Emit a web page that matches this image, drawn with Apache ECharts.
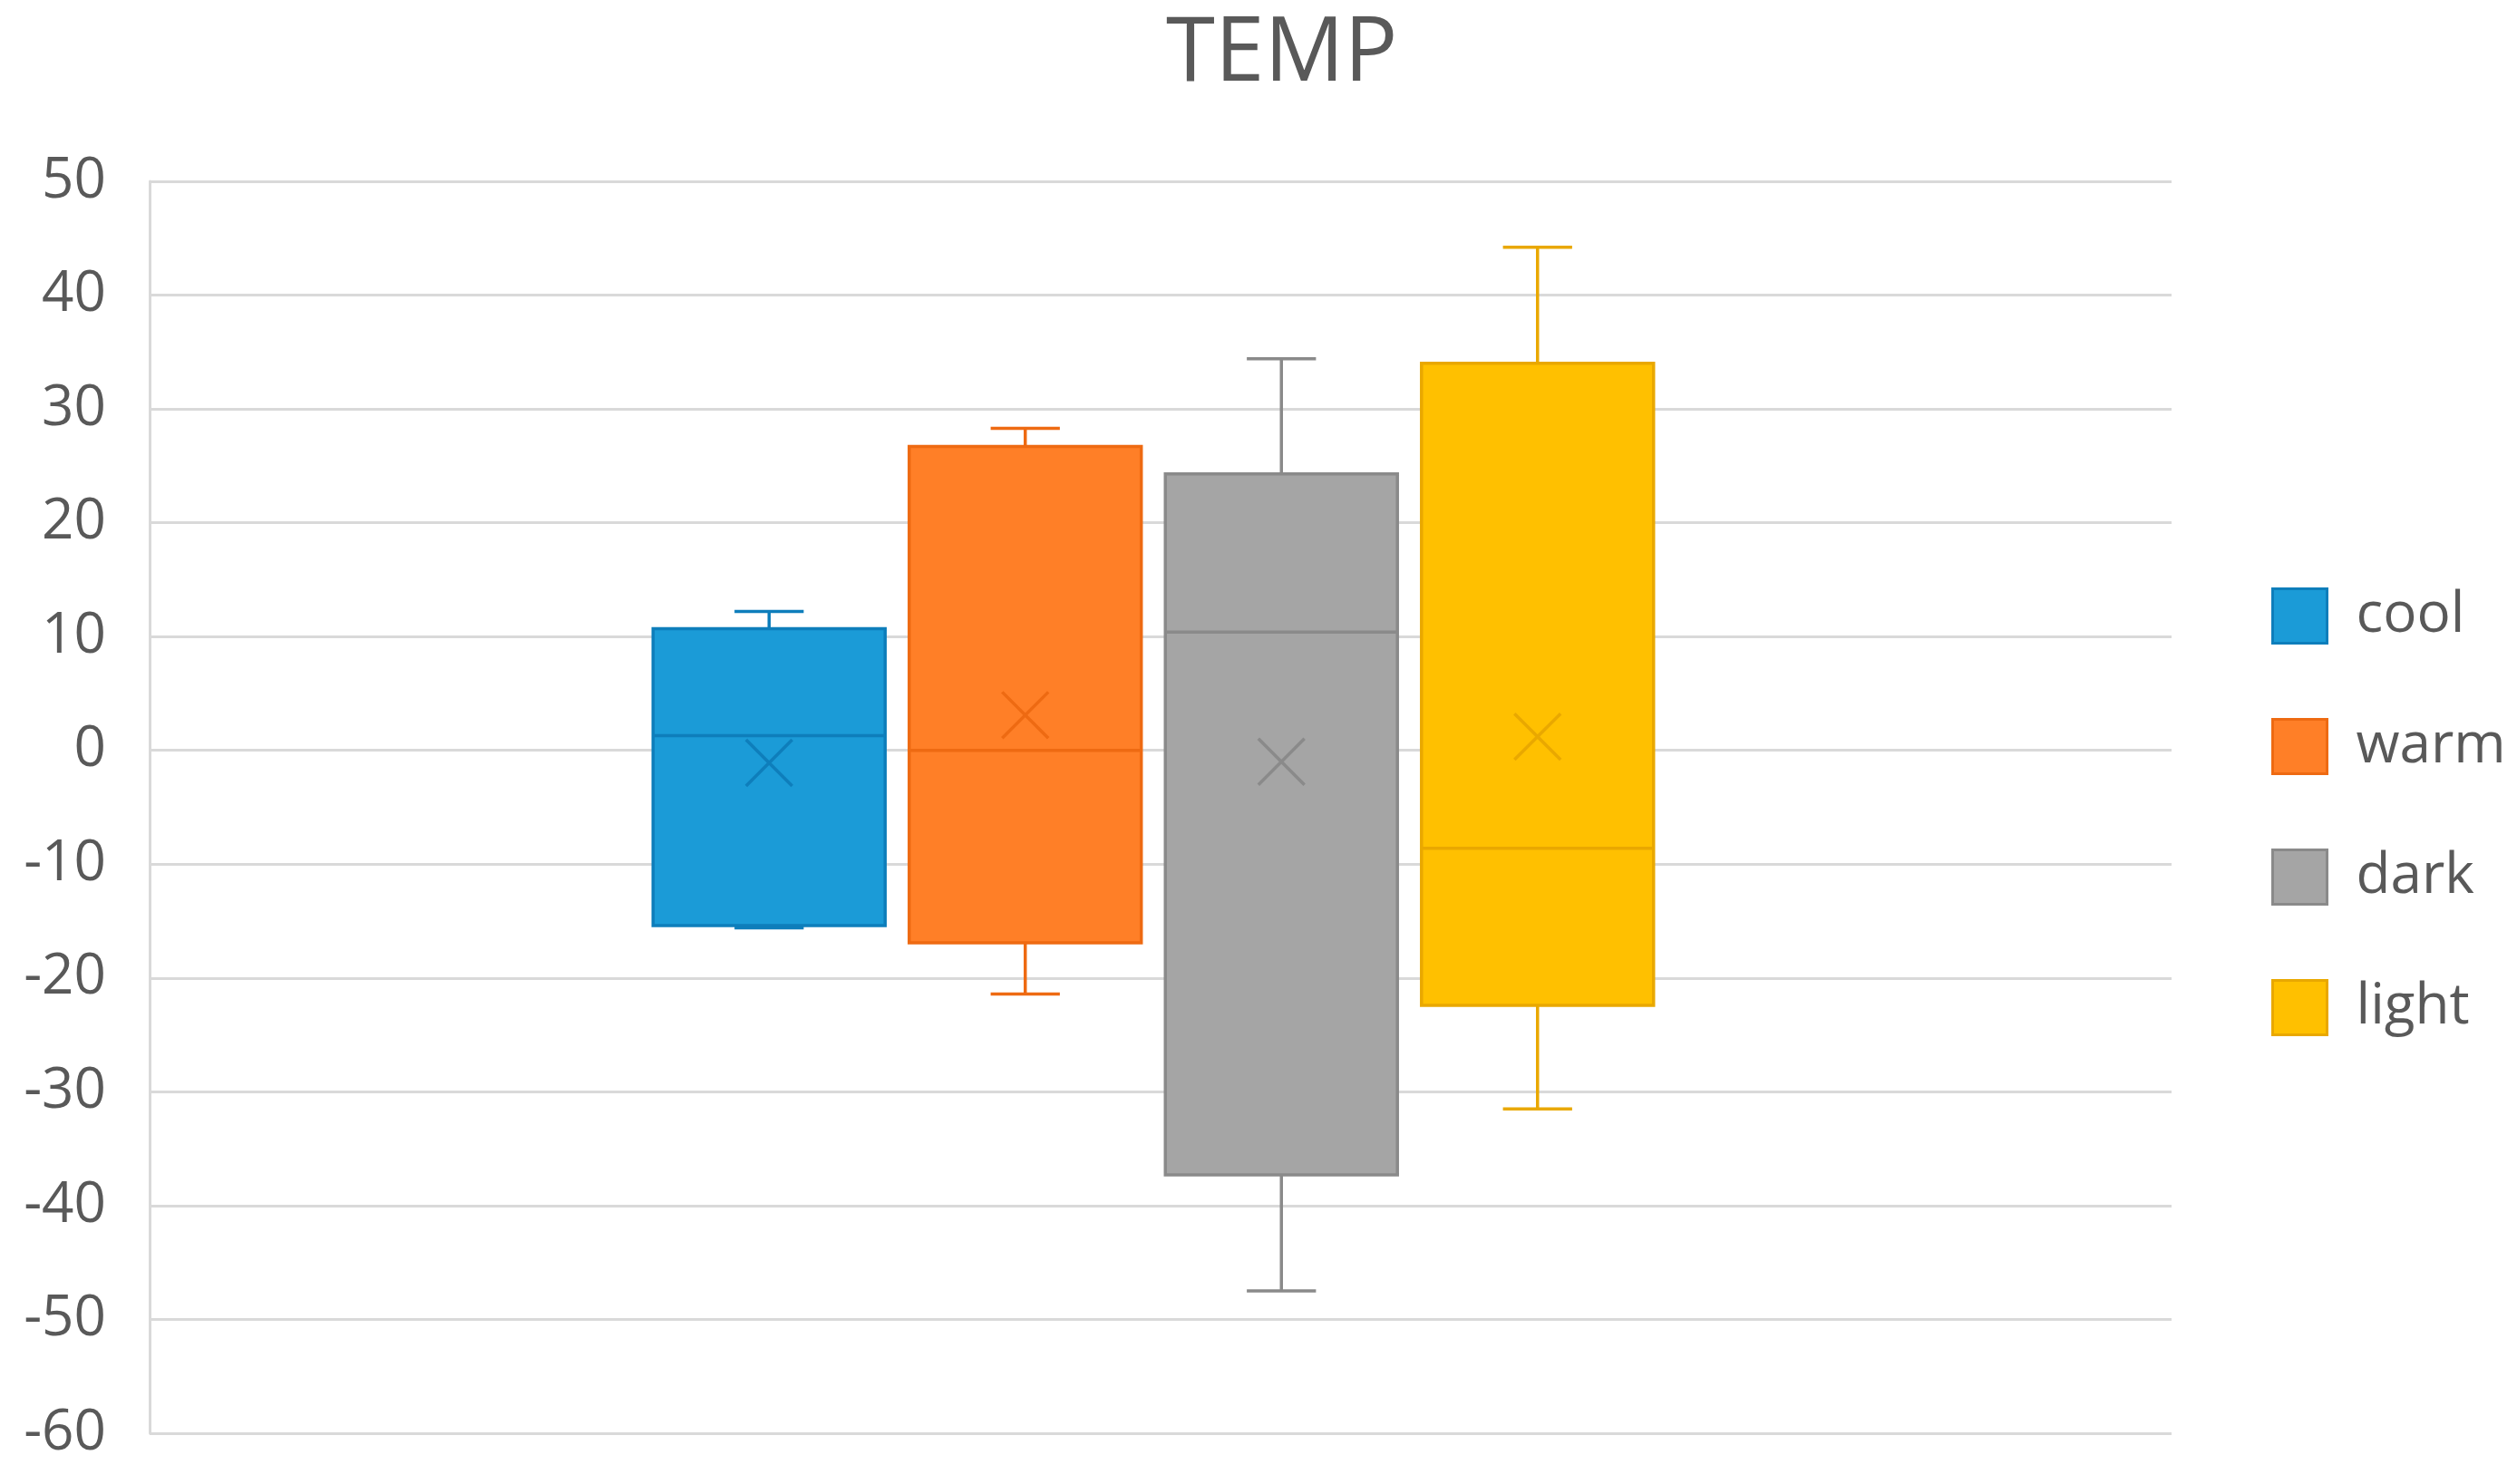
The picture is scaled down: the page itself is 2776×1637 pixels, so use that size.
<!DOCTYPE html>
<html>
<head>
<meta charset="utf-8">
<script src="https://cdn.jsdelivr.net/npm/echarts@6/dist/echarts.min.js"></script>
<style>
html,body{margin:0;padding:0;background:#fff;}
#chart{width:2776px;height:1637px;}
</style>
</head>
<body>
<div id="chart"></div>
<script>
// ---- data ----
const categories = ['cool', 'warm', 'dark', 'light'];
const minVals    = [-15.6, -21.4, -47.5, -31.5];
const q1Vals     = [-15.4, -16.9, -37.3, -22.4];
const medianVals = [1.3, 0.0, 10.4, -8.6];
const q3Vals     = [10.7, 26.7, 24.3, 34.0];
const maxVals    = [12.2, 28.3, 34.4, 44.2];
const meanVals   = [-1.1, 3.1, -1.0, 1.2];
const yMin = -60, yMax = 50, yInterval = 10;

// ---- styles ----
const fills   = ['#1B9BD7', '#FF7F27', '#A5A5A5', '#FFC000'];
const borders = ['#0E7EBB', '#EE6A12', '#8A8A8A', '#E9A800'];

function renderBox(params, api) {
  const i = params.seriesIndex;
  const cat = api.value(0);
  const band = api.size([1, 0])[0];
  const bw = band * 0.906, cw = band * 0.27, xs = band * 0.18;
  const pMin = api.coord([cat, api.value(1)]);
  const pQ1 = api.coord([cat, api.value(2)]);
  const pMed = api.coord([cat, api.value(3)]);
  const pQ3 = api.coord([cat, api.value(4)]);
  const pMax = api.coord([cat, api.value(5)]);
  const pMean = api.coord([cat, api.value(6)]);
  const cx = pMed[0];
  const lw = 3.5;
  const lineStyle = { stroke: borders[i], lineWidth: lw, fill: null };
  const h = xs / 2, v = xs / 2;
  return {
    type: 'group',
    children: [
      { type: 'line', shape: { x1: cx, y1: pQ3[1], x2: cx, y2: pMax[1] }, style: lineStyle },
      { type: 'line', shape: { x1: cx - cw / 2, y1: pMax[1], x2: cx + cw / 2, y2: pMax[1] }, style: lineStyle },
      { type: 'line', shape: { x1: cx, y1: pQ1[1], x2: cx, y2: pMin[1] }, style: lineStyle },
      { type: 'line', shape: { x1: cx - cw / 2, y1: pMin[1], x2: cx + cw / 2, y2: pMin[1] }, style: lineStyle },
      { type: 'rect', shape: { x: cx - bw / 2, y: pQ3[1], width: bw, height: pQ1[1] - pQ3[1] },
        style: { fill: fills[i], stroke: borders[i], lineWidth: lw } },
      { type: 'line', shape: { x1: cx - bw / 2, y1: pMed[1], x2: cx + bw / 2, y2: pMed[1] }, style: lineStyle },
      { type: 'line', shape: { x1: cx - h, y1: pMean[1] - v, x2: cx + h, y2: pMean[1] + v }, style: lineStyle },
      { type: 'line', shape: { x1: cx - h, y1: pMean[1] + v, x2: cx + h, y2: pMean[1] - v }, style: lineStyle }
    ]
  };
}

const chart = echarts.init(document.getElementById('chart'));
const font = 'Open Sans';
const seriesList = categories.map(function (name, i) {
  return {
    name: name,
    type: 'custom',
    xAxisIndex: 1,
    yAxisIndex: 1,
    itemStyle: { color: fills[i], borderColor: borders[i] },
    encode: { x: 0, y: [1, 2, 3, 4, 5, 6] },
    renderItem: renderBox,
    data: [[i, minVals[i], q1Vals[i], medianVals[i], q3Vals[i], maxVals[i], meanVals[i]]]
  };
});

chart.setOption({
  backgroundColor: '#ffffff',
  animation: false,
  title: {
    text: 'TEMP',
    left: 1281,
    top: 7,
    textStyle: { fontFamily: font, fontSize: 98, fontWeight: 'normal', color: '#595959' }
  },
  legend: {
    orient: 'vertical',
    left: 2500,
    top: 643,
    itemWidth: 60,
    itemHeight: 60,
    itemGap: 81,
    icon: 'rect',
    textStyle: { fontFamily: font, fontSize: 62, color: '#595959', padding: [0, 0, 0, 27] },
    data: categories.map(function (n, i) {
      return { name: n, itemStyle: { color: fills[i], borderColor: borders[i], borderWidth: 3 } };
    })
  },
  grid: [
    { left: 165, right: 381, top: 200, bottom: 56 },
    { left: 707, width: 1130, top: 200, bottom: 56 }
  ],
  xAxis: [
    { gridIndex: 0, type: 'category', data: [''], axisLine: { show: false }, axisTick: { show: false }, axisLabel: { show: false } },
    { gridIndex: 1, type: 'category', data: categories, axisLine: { show: false }, axisTick: { show: false }, axisLabel: { show: false }, splitLine: { show: false } }
  ],
  yAxis: [
    {
      gridIndex: 0, type: 'value', min: yMin, max: yMax, interval: yInterval,
      axisLine: { show: true, lineStyle: { color: '#D9D9D9', width: 3 } },
      axisTick: { show: false },
      axisLabel: { margin: 48, fontFamily: font, fontSize: 62, color: '#595959' },
      splitLine: { show: true, lineStyle: { color: '#D9D9D9', width: 3 } }
    },
    {
      gridIndex: 1, type: 'value', min: yMin, max: yMax, interval: yInterval,
      axisLine: { show: false }, axisTick: { show: false }, axisLabel: { show: false }, splitLine: { show: false }
    }
  ],
  series: seriesList
});
</script>
</body>
</html>
